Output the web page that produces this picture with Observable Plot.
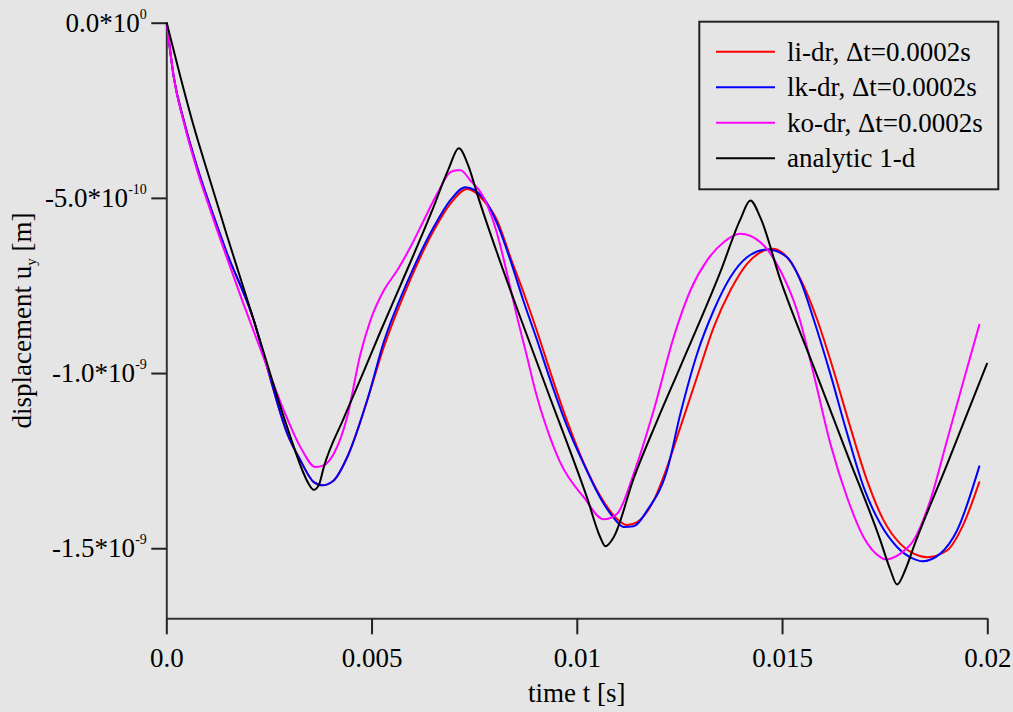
<!DOCTYPE html>
<html><head><meta charset="utf-8">
<script src="https://cdn.jsdelivr.net/npm/d3@7"></script>
<script src="https://cdn.jsdelivr.net/npm/@observablehq/plot@0.6"></script>
<style>
html,body{margin:0;padding:0;background:#e5e5e5;overflow:hidden;}
#chart{width:1013px;height:712px;}
</style></head><body><div id="chart"></div>
<script>
// ---- data (t in ms, u in 1e-10 m) ----
const seriesNames = ["li-dr, Δt=0.0002s", "lk-dr, Δt=0.0002s", "ko-dr, Δt=0.0002s", "analytic 1-d"];
const seriesColors = ["#ff0000", "#0000ff", "#ff00ff", "#000000"];

const tLi = [0, 0.17, 0.414, 0.740, 1.064, 1.471, 2.119, 2.445, 2.937, 3.256, 3.580, 3.785, 4.067, 4.394, 4.880, 5.285, 5.855, 6.503, 6.909, 7.316, 7.720, 8.047, 8.371, 8.695, 9.021, 9.425, 9.751, 10.156, 10.562, 10.969, 11.213, 11.456, 11.861, 12.187, 12.511, 12.917, 13.322, 13.728, 14.135, 14.460, 14.745, 15.027, 15.433, 15.840, 16.245, 16.651, 17.058, 17.462, 17.869, 18.193, 18.519, 19.006, 19.411, 19.793];
const uLi = [0, -1.54, -2.78, -4.11, -5.25, -6.58, -8.48, -9.82, -11.72, -12.48, -13.10, -13.19, -13.05, -12.39, -10.77, -9.25, -7.53, -5.92, -5.15, -4.73, -5.06, -5.63, -6.68, -7.70, -8.80, -10.25, -11.35, -12.55, -13.50, -14.15, -14.32, -14.24, -13.62, -12.67, -11.53, -10.10, -8.68, -7.63, -6.87, -6.54, -6.44, -6.58, -7.30, -8.45, -9.92, -11.53, -13.05, -14.19, -14.86, -15.14, -15.24, -15.05, -14.29, -13.10];

const tLk = [0, 0.17, 0.414, 0.740, 1.064, 1.471, 2.119, 2.445, 2.937, 3.256, 3.580, 3.785, 4.067, 4.394, 4.880, 5.285, 5.855, 6.503, 6.909, 7.274, 7.720, 8.047, 8.371, 8.695, 9.021, 9.303, 9.751, 10.156, 10.562, 10.886, 11.130, 11.373, 11.700, 12.187, 12.511, 12.917, 13.322, 13.728, 14.135, 14.623, 15.110, 15.433, 15.757, 16.164, 16.571, 16.975, 17.382, 17.789, 18.193, 18.397, 18.843, 19.250, 19.793];
const uLk = [0, -1.54, -2.78, -4.11, -5.25, -6.58, -8.48, -9.82, -11.72, -12.48, -13.10, -13.19, -13.05, -12.39, -10.77, -9.10, -7.40, -5.82, -5.05, -4.68, -5.00, -5.72, -6.77, -7.95, -9.05, -10.05, -11.50, -12.58, -13.55, -14.12, -14.38, -14.36, -13.91, -12.76, -11.15, -9.44, -8.20, -7.25, -6.68, -6.46, -6.68, -7.34, -8.45, -10.01, -11.70, -13.24, -14.29, -14.95, -15.29, -15.36, -15.14, -14.48, -12.65];

const tKo = [0, 0.17, 0.414, 0.740, 1.064, 1.471, 1.836, 2.445, 2.850, 3.256, 3.621, 3.824, 4.067, 4.394, 4.717, 4.961, 5.285, 5.611, 5.935, 6.259, 6.585, 6.909, 7.073, 7.153, 7.397, 7.720, 8.047, 8.290, 8.534, 8.777, 8.980, 9.101, 9.345, 9.589, 10.156, 10.643, 10.969, 11.373, 11.861, 12.348, 12.754, 13.161, 13.565, 13.972, 14.460, 14.946, 15.353, 15.757, 16.164, 16.571, 16.975, 17.382, 17.504, 17.869, 18.193, 18.599, 19.006, 19.411, 19.793];
const uKo = [0, -1.54, -2.83, -4.20, -5.35, -6.72, -7.91, -9.82, -11.05, -12.10, -12.67, -12.62, -12.29, -11.24, -9.44, -8.48, -7.63, -7.06, -6.39, -5.63, -4.87, -4.25, -4.20, -4.20, -4.49, -4.97, -6.01, -7.15, -8.39, -9.53, -10.50, -11.00, -11.85, -12.55, -13.53, -14.16, -14.00, -12.86, -11.05, -8.96, -7.63, -6.77, -6.25, -6.01, -6.25, -7.06, -8.20, -10.01, -12.00, -13.53, -14.67, -15.24, -15.31, -15.14, -14.76, -13.62, -11.91, -10.20, -8.61];

const tAn = [0, 0.334, 0.658, 0.984, 1.471, 2.119, 2.932, 3.337, 3.451, 3.580, 3.707, 3.824, 4.311, 4.798, 5.205, 5.700, 6.460, 6.868, 7.112, 7.355, 7.560, 8.047, 8.534, 9.345, 9.751, 10.239, 10.562, 10.685, 10.886, 11.373, 11.943, 12.511, 13.485, 13.972, 14.216, 14.460, 14.946, 15.757, 16.571, 17.382, 17.625, 17.789, 17.991, 18.193, 19.006, 19.980];
const uAn = [0, -1.54, -2.95, -4.22, -6.08, -8.48, -11.53, -12.86, -13.14, -13.32, -13.17, -12.67, -11.27, -9.94, -8.80, -7.46, -5.36, -4.15, -3.57, -4.10, -4.87, -6.56, -8.15, -10.72, -11.98, -13.55, -14.68, -14.93, -14.67, -12.99, -11.35, -9.80, -7.10, -5.60, -5.06, -5.55, -7.32, -9.80, -12.29, -14.76, -15.60, -16.02, -15.60, -14.95, -12.60, -9.72];

const xTicks = [0, 0.005, 0.01, 0.015, 0.02];
const xTickLabels = ["0.0", "0.005", "0.01", "0.015", "0.02"];
const yTicks = [0, -5e-10, -1e-9, -1.5e-9];
const yTickMantissa = ["0.0*10", "-5.0*10", "-1.0*10", "-1.5*10"];
const yTickExponent = ["0", "-10", "-9", "-9"];
const xDomain = [0, 0.02];
const yDomain = [-1.7e-9, 0];
const xTitle = "time t [s]";

// ---- build table ----
const T_UNIT = 1e-3, U_UNIT = 1e-10;
const rows = [];
[[tLi, uLi], [tLk, uLk], [tKo, uKo], [tAn, uAn]].forEach(([t, u], k) => {
  t.forEach((ti, i) => rows.push({series: seriesNames[k], t: ti * T_UNIT, u: u[i] * U_UNIT}));
});

const W = 1013, H = 712;
const mL = 166.3, mR = 25.7, mT = 22.7, mB = 93.7;
const FONT = '"Liberation Serif", "Times New Roman", serif';
const FS = 27;

const plot = Plot.plot({
  width: W, height: H,
  marginLeft: mL, marginRight: mR, marginTop: mT, marginBottom: mB,
  style: {background: "#e5e5e5", fontFamily: FONT, fontSize: FS + "px", color: "#000", overflow: "visible"},
  x: {domain: xDomain, label: null},
  y: {domain: yDomain, label: null},
  color: {domain: seriesNames, range: seriesColors},
  marks: [
    Plot.ruleX([xDomain[0]], {stroke: "#333", strokeWidth: 2}),
    Plot.ruleY([yDomain[0]], {stroke: "#333", strokeWidth: 2}),
    Plot.axisX({ticks: xTicks, tickFormat: d => xTickLabels[xTicks.indexOf(d)], tickSize: 16, tickPadding: 13, fontSize: FS, label: null, stroke: "#222", strokeWidth: 2}),
    Plot.axisY({ticks: yTicks, tickFormat: d => yTickMantissa[yTicks.indexOf(d)], tickSize: 15, tickPadding: 5, fontSize: FS, label: null, stroke: "#222", strokeWidth: 2}),
    Plot.line(rows, {x: "t", y: "u", z: "series", stroke: "series", strokeWidth: 2, curve: "monotone-x"})
  ]
});
document.getElementById("chart").appendChild(plot);

const svg = d3.select(plot);
// superscript exponents on y tick labels
svg.selectAll('g[aria-label="y-axis tick label"] text').each(function () {
  const el = d3.select(this);
  const m = el.text();
  const idx = yTickMantissa.indexOf(m);
  el.text(null);
  el.append("tspan").text(m);
  el.append("tspan").attr("dy", -13).attr("font-size", 14).text(yTickExponent[idx]);
});

// axis titles
const plotL = mL, plotR = W - mR, plotT = mT, plotB = H - mB;
svg.append("text")
  .attr("x", (plotL + plotR) / 2).attr("y", 702)
  .attr("text-anchor", "middle").attr("font-size", FS).attr("font-family", FONT).attr("fill", "#000")
  .text(xTitle);
const yt = svg.append("text")
  .attr("transform", `translate(31,${(plotT + plotB) / 2}) rotate(-90)`)
  .attr("text-anchor", "middle").attr("font-size", FS).attr("font-family", FONT).attr("fill", "#000");
yt.append("tspan").text("displacement u");
yt.append("tspan").attr("font-size", 15).attr("dy", 5).text("y");
yt.append("tspan").attr("dy", -5).text(" [m]");

// legend inside the plot
const lg = svg.append("g").attr("font-family", FONT).attr("font-size", FS).attr("text-anchor", "start");
lg.append("rect").attr("x", 699.3).attr("y", 21.7).attr("width", 299).attr("height", 167.6)
  .attr("fill", "none").attr("stroke", "#222").attr("stroke-width", 2);
seriesNames.forEach((name, i) => {
  const y = 51.7 + i * 35.5;
  lg.append("line").attr("x1", 716).attr("x2", 775).attr("y1", y).attr("y2", y)
    .attr("stroke", seriesColors[i]).attr("stroke-width", 2);
  lg.append("text").attr("x", 787).attr("y", y + 9).attr("text-anchor", "start").attr("fill", "#000").text(name);
});
</script>
</body></html>
